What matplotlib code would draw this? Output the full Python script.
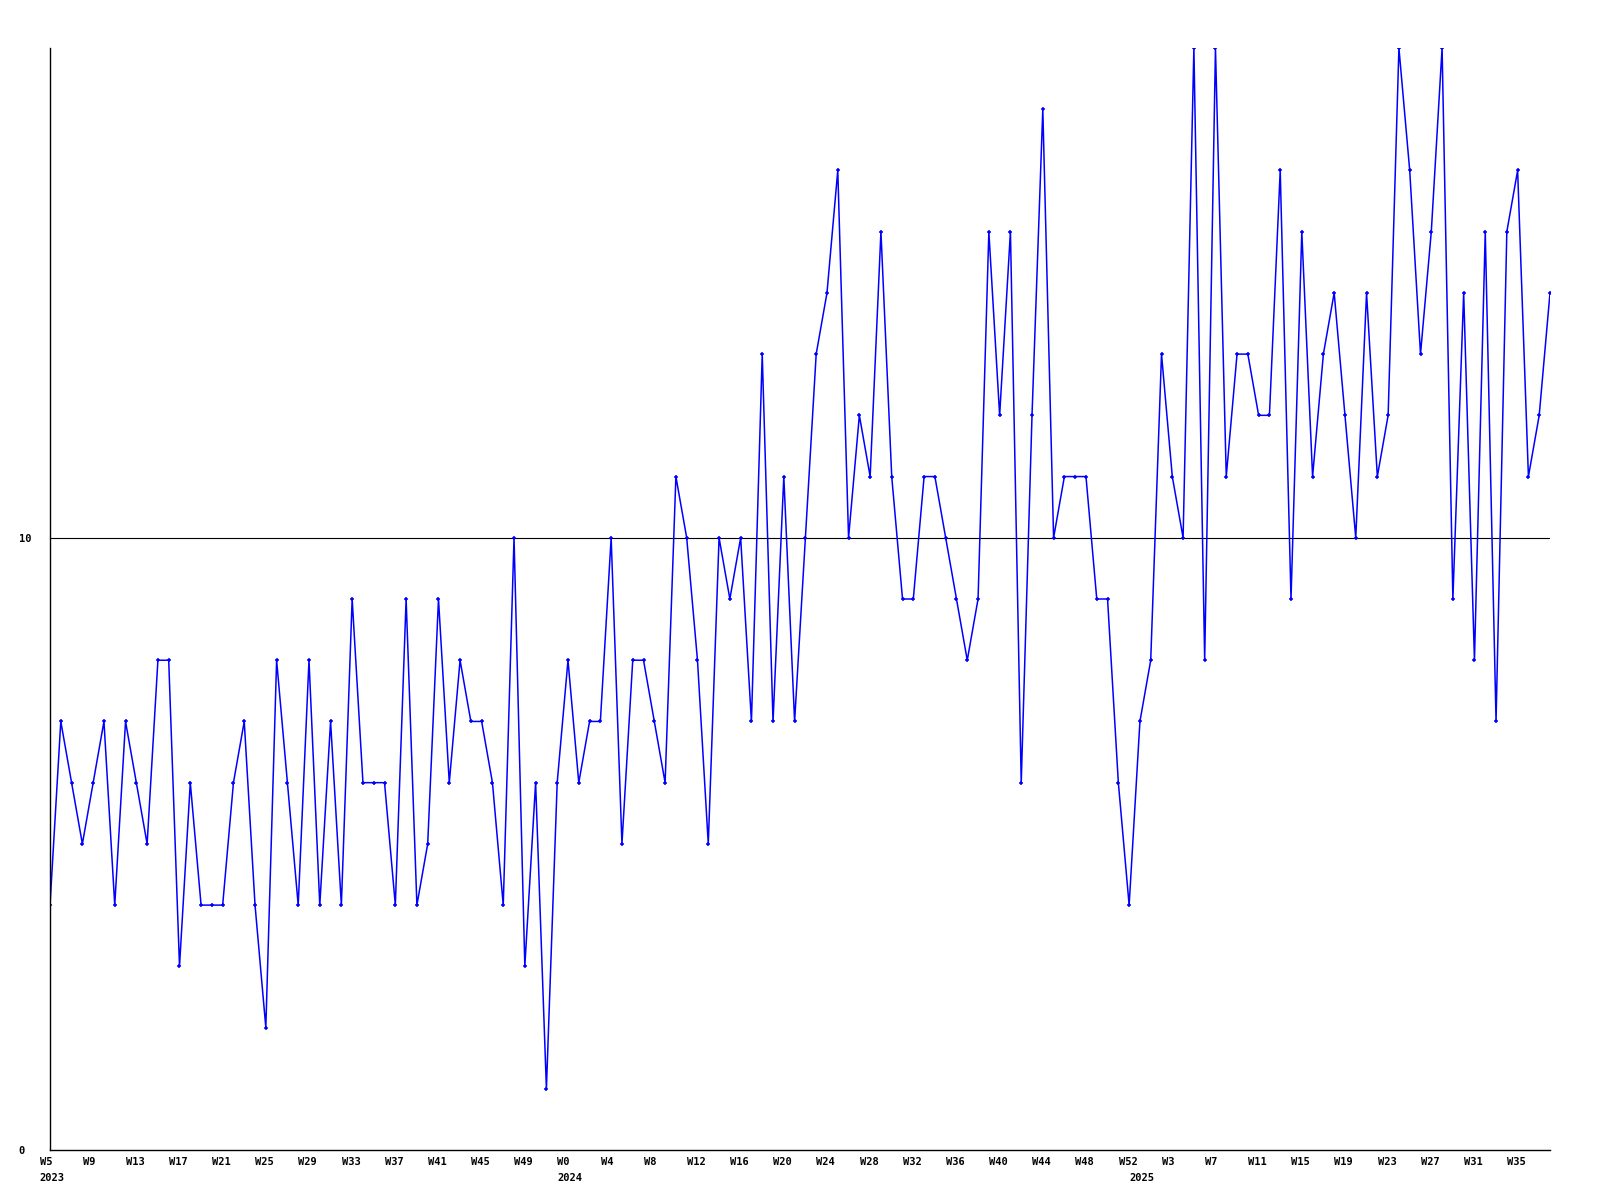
import matplotlib
matplotlib.use("Agg")
import matplotlib.pyplot as plt
from matplotlib.transforms import ScaledTranslation

# weekly values, W5 2023 .. W36 2025
values = [4, 7, 6, 5, 6, 7, 4, 7, 6, 5,
          8, 8, 3, 6, 4, 4, 4, 6, 7, 4,
          2, 8, 6, 4, 8, 4, 7, 4, 9, 6,
          6, 6, 4, 9, 4, 5, 9, 6, 8, 7,
          7, 6, 4, 10, 3, 6, 1, 6, 8, 6,
          7, 7, 10, 5, 8, 8, 7, 6, 11, 10,
          8, 5, 10, 9, 10, 7, 13, 7, 11, 7,
          10, 13, 14, 16, 10, 12, 11, 15, 11, 9,
          9, 11, 11, 10, 9, 8, 9, 15, 12, 15,
          6, 12, 17, 10, 11, 11, 11, 9, 9, 6,
          4, 7, 8, 13, 11, 10, 18, 8, 18, 11,
          13, 13, 12, 12, 16, 9, 15, 11, 13, 14,
          12, 10, 14, 11, 12, 18, 16, 13, 15, 18,
          9, 14, 8, 15, 7, 15, 16, 11, 12, 14]

week_labels = ["W5", "W9", "W13", "W17", "W21", "W25", "W29", "W33", "W37",
               "W41", "W45", "W49", "W0", "W4", "W8", "W12", "W16", "W20",
               "W24", "W28", "W32", "W36", "W40", "W44", "W48", "W52", "W3",
               "W7", "W11", "W15", "W19", "W23", "W27", "W31", "W35"]
years = ["2023", "2024", "2025"]
year_pos = [0, 48, 101]

fig = plt.figure(figsize=(16, 12), dpi=100)
ax = fig.add_axes([50 / 1600, 50 / 1200, 1500 / 1600, 1102 / 1200])

x = list(range(len(values)))
ax.plot(x, values, color="#0000ff", lw=1.1, marker="+", ms=3.5, mew=1.1)
ax.axhline(10, color="black", lw=0.8, zorder=0)

ax.set_xlim(0, len(values) - 1)
ax.set_ylim(0, 18)

for s in ["top", "right"]:
    ax.spines[s].set_visible(False)
for s in ["left", "bottom"]:
    ax.spines[s].set_linewidth(1.0)

font = dict(family="DejaVu Sans Mono", weight="bold", size=7.5)

ax.set_yticks([0, 10])
ax.set_yticklabels(["0", "10"], fontdict=font, ha="left")
ax.tick_params(axis="y", length=0, pad=22.5)

ax.set_xticks(range(0, len(values), 4))
ax.set_xticklabels(week_labels, fontdict=font, ha="left")
ax.tick_params(axis="x", length=0, pad=5)
shift = ScaledTranslation(-10.5 / 100, 0, fig.dpi_scale_trans)
for lab in ax.get_xticklabels():
    lab.set_transform(lab.get_transform() + shift)

for yr, pos in zip(years, year_pos):
    ax.annotate(yr, xy=(pos, 0), xycoords=("data", "axes fraction"),
                xytext=(-7.6, -16.8), textcoords="offset points",
                ha="left", va="top", **font)

fig.savefig("out.png", dpi=100)
